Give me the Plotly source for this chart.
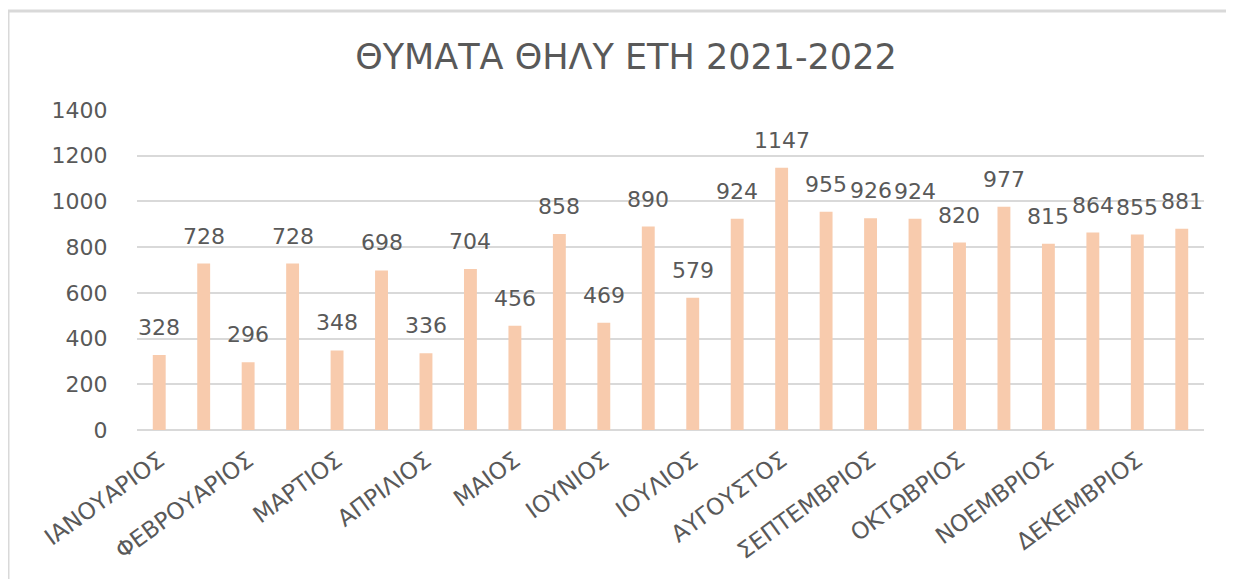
import plotly.graph_objects as go

months = ["ΙΑΝΟΥΑΡΙΟΣ", "ΦΕΒΡΟΥΑΡΙΟΣ", "ΜΑΡΤΙΟΣ", "ΑΠΡΙΛΙΟΣ", "ΜΑΙΟΣ", "ΙΟΥΝΙΟΣ",
          "ΙΟΥΛΙΟΣ", "ΑΥΓΟΥΣΤΟΣ", "ΣΕΠΤΕΜΒΡΙΟΣ", "ΟΚΤΩΒΡΙΟΣ", "ΝΟΕΜΒΡΙΟΣ", "ΔΕΚΕΜΒΡΙΟΣ"]
# two bars per month (2021, 2022)
values = [328, 728, 296, 728, 348, 698, 336, 704, 456, 858, 469, 890,
          579, 924, 1147, 955, 926, 924, 820, 977, 815, 864, 855, 881]
y_ticks = [0, 200, 400, 600, 800, 1000, 1200, 1400]
title_text = "ΘΥΜΑΤΑ ΘΗΛΥ ΕΤΗ 2021-2022"

x_pos = list(range(len(values)))
tick_pos = x_pos[::2]

GRAY = "#595959"
FONT = "DejaVu Sans"

fig = go.Figure()
fig.add_trace(go.Bar(x=x_pos, y=values, marker_color="#F8CBAD",
                     marker_line_width=0, hoverinfo="x+y"))

for xv, yv in zip(x_pos, values):
    fig.add_annotation(x=xv, y=yv, text=str(yv), showarrow=False,
                       yanchor="bottom", yshift=13,
                       font=dict(family=FONT, size=22, color=GRAY))

fig.update_layout(
    width=1226, height=571,
    margin=dict(l=129, r=30, t=102, b=149, autoexpand=False),
    paper_bgcolor="white", plot_bgcolor="white",
    bargap=0.71, showlegend=False,
    title=dict(text=title_text, x=0.504, xanchor="center", y=0.914, yanchor="middle",
               font=dict(family=FONT, size=35, color=GRAY)),
    xaxis=dict(range=[-0.5, len(values) - 0.5], tickmode="array",
               tickvals=tick_pos, ticktext=months, tickangle=-36,
               ticks="outside", ticklen=7, tickcolor="rgba(0,0,0,0)",
               tickfont=dict(family=FONT, size=23, color=GRAY),
               showgrid=False, zeroline=False, showline=False, automargin=False),
    yaxis=dict(range=[0, 1400], tickmode="array", tickvals=y_ticks,
               ticks="outside", ticklen=24, tickcolor="rgba(0,0,0,0)",
               tickfont=dict(family=FONT, size=22, color=GRAY),
               showgrid=True, gridcolor="#D9D9D9", gridwidth=1.5,
               zeroline=True, zerolinecolor="#D9D9D9", zerolinewidth=1.5,
               showline=False, automargin=False),
)

# chart frame (top and left edges visible in the reference)
fig.add_shape(type="line", xref="paper", yref="paper",
              x0=-0.1209, x1=1.03, y0=1.309, y1=1.309,
              line=dict(color="#D9D9D9", width=3))
fig.add_shape(type="line", xref="paper", yref="paper",
              x0=-0.1209, x1=-0.1209, y0=1.309, y1=-0.47,
              line=dict(color="#D9D9D9", width=3))

fig.write_html("out.html")
